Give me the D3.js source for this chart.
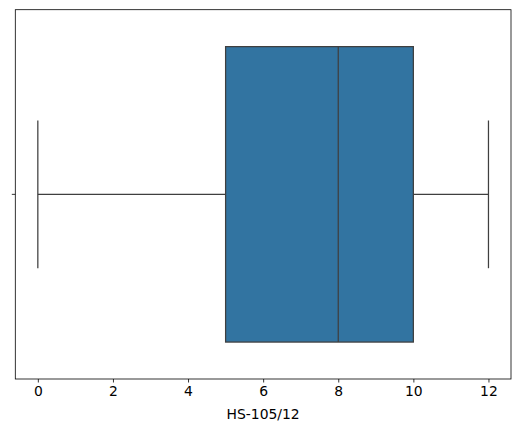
<!DOCTYPE html>
<html>
<head>
<script src="https://d3js.org/d3.v7.min.js"></script>
<style>
  body { margin: 0; background: #fff; }
  text { font-family: "DejaVu Sans", sans-serif; }
</style>
</head>
<body>
<script>
// box statistics for HS-105/12
var category = ["HS-105/12"];
var whiskerLow = [0];
var q1 = [5];
var median = [8];
var q3 = [10];
var whiskerHigh = [12];
var xTicks = [0, 2, 4, 6, 8, 10, 12];

var width = 520, height = 432;
var margin = {left: 15.3, top: 9.7, right: 9, bottom: 53};
var iw = width - margin.left - margin.right;
var ih = height - margin.top - margin.bottom;

var svg = d3.select("body").append("svg")
  .attr("width", width)
  .attr("height", height);

var g = svg.append("g")
  .attr("transform", "translate(" + margin.left + "," + margin.top + ")");

var x = d3.scaleLinear().domain([-0.6, 12.6]).range([0, iw]);
var y = d3.scaleBand().domain(category).range([0, ih]).padding(0);

var boxH = y.bandwidth() * 0.8;
var capH = boxH * 0.5;
var lineColor = "#3f3f3f";

category.forEach(function (c, i) {
  var cy = y(c) + y.bandwidth() / 2;
  // whisker lines
  g.append("line")
    .attr("x1", x(whiskerLow[i])).attr("x2", x(q1[i]))
    .attr("y1", cy).attr("y2", cy)
    .attr("stroke", lineColor).attr("stroke-width", 1.25);
  g.append("line")
    .attr("x1", x(q3[i])).attr("x2", x(whiskerHigh[i]))
    .attr("y1", cy).attr("y2", cy)
    .attr("stroke", lineColor).attr("stroke-width", 1.25);
  // caps
  [whiskerLow[i], whiskerHigh[i]].forEach(function (v) {
    g.append("line")
      .attr("x1", x(v)).attr("x2", x(v))
      .attr("y1", cy - capH / 2).attr("y2", cy + capH / 2)
      .attr("stroke", lineColor).attr("stroke-width", 1.25);
  });
  // box
  g.append("rect")
    .attr("x", x(q1[i])).attr("width", x(q3[i]) - x(q1[i]))
    .attr("y", cy - boxH / 2).attr("height", boxH)
    .attr("fill", "#3274a1")
    .attr("stroke", lineColor).attr("stroke-width", 1.25);
  // median
  g.append("line")
    .attr("x1", x(median[i])).attr("x2", x(median[i]))
    .attr("y1", cy - boxH / 2).attr("y2", cy + boxH / 2)
    .attr("stroke", lineColor).attr("stroke-width", 1.25);
});

// axes
var xAxis = g.append("g")
  .attr("transform", "translate(0," + ih + ")")
  .call(d3.axisBottom(x).tickValues(xTicks).tickSize(3.5).tickPadding(3.5));
xAxis.select(".domain").remove();
xAxis.selectAll("text").attr("font-size", "13.9px").attr("fill", "#000")
  .attr("font-family", "DejaVu Sans");
xAxis.selectAll("line").attr("stroke", "#000").attr("stroke-width", 0.8);

var yAxis = g.append("g")
  .call(d3.axisLeft(y).tickSize(3.5).tickFormat(""));
yAxis.select(".domain").remove();
yAxis.selectAll("line").attr("stroke", "#000").attr("stroke-width", 0.8);

// frame
g.append("rect")
  .attr("width", iw).attr("height", ih)
  .attr("fill", "none").attr("stroke", "#000").attr("stroke-width", 0.8);

// label
g.append("text")
  .attr("x", iw / 2).attr("y", ih + 40)
  .attr("text-anchor", "middle")
  .attr("font-size", "13.9px")
  .text(category[0]);
</script>
</body>
</html>
